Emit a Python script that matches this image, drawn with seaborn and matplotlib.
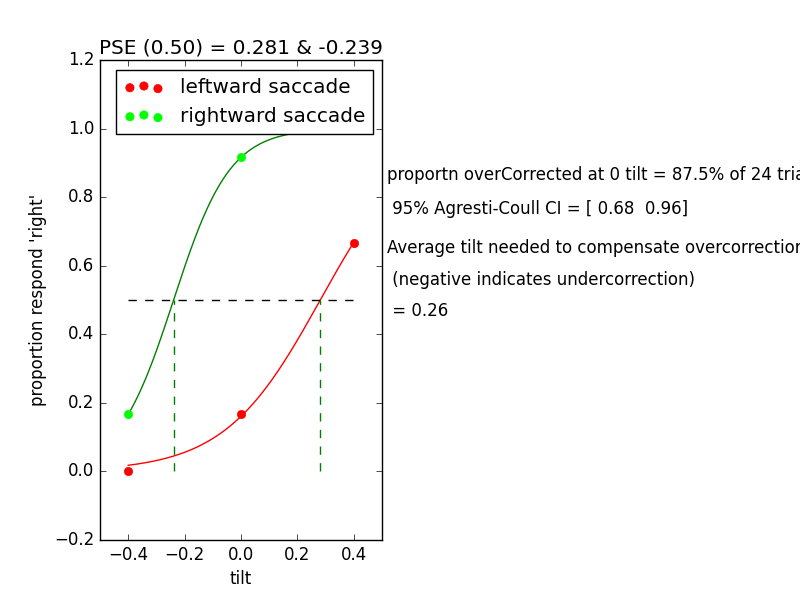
import numpy as np
import matplotlib
matplotlib.use('Agg')
import matplotlib.pyplot as plt
import seaborn as sns

plt.style.use('classic')

# observed proportions of 'right' responses at each tilt
tilt = [-0.4, 0.0, 0.4]
leftward_prop = [0.0, 0.167, 0.667]
rightward_prop = [0.167, 0.917, 1.0]

# fitted psychometric curve parameters (PSE, spread)
pse = [0.281, -0.239]
spread = [0.17, 0.10]

info_lines = [
    "proportn overCorrected at 0 tilt = 87.5% of 24 trials",
    " 95% Agresti-Coull CI = [ 0.68  0.96]",
    "Average tilt needed to compensate overcorrection",
    " (negative indicates undercorrection)",
    " = 0.26",
]
info_y = [0.709, 0.652, 0.587, 0.534, 0.481]

fig = plt.figure(figsize=(8, 6), dpi=100)
ax = fig.add_axes([0.125, 0.1, 0.3525, 0.8])

xs = np.linspace(tilt[0], tilt[-1], 200)
curve_colors = ['r', 'g']
for mu, s, col in zip(pse, spread, curve_colors):
    ys = 1.0 / (1.0 + np.exp(-(xs - mu) / s))
    sns.lineplot(x=xs, y=ys, color=col, lw=1, ax=ax)

sns.scatterplot(x=tilt, y=leftward_prop, color='red', edgecolor='red', s=36,
                label='leftward saccade', zorder=3, ax=ax)
sns.scatterplot(x=tilt, y=rightward_prop, color='lime', edgecolor='lime', s=36,
                label='rightward saccade', zorder=3, ax=ax)

ax.plot([tilt[0], tilt[-1]], [0.5, 0.5], 'k--')
for mu in pse:
    ax.plot([mu, mu], [0, 0.5], 'g--')

ax.set_xlim(-0.5, 0.5)
ax.set_ylim(-0.2, 1.2)
ax.set_xticks([-0.4, -0.2, 0.0, 0.2, 0.4])
ax.set_xlabel('tilt')
ax.set_ylabel("proportion respond 'right'")
ax.set_title('PSE (0.50) = %.3f & %.3f' % (pse[0], pse[1]))
ax.legend(loc='upper left', bbox_to_anchor=(0.021, 1.0), scatterpoints=3,
          fontsize='large')

for txt, y in zip(info_lines, info_y):
    fig.text(0.484, y, txt, fontsize=12, va='center')

fig.savefig('out.png', dpi=100)
